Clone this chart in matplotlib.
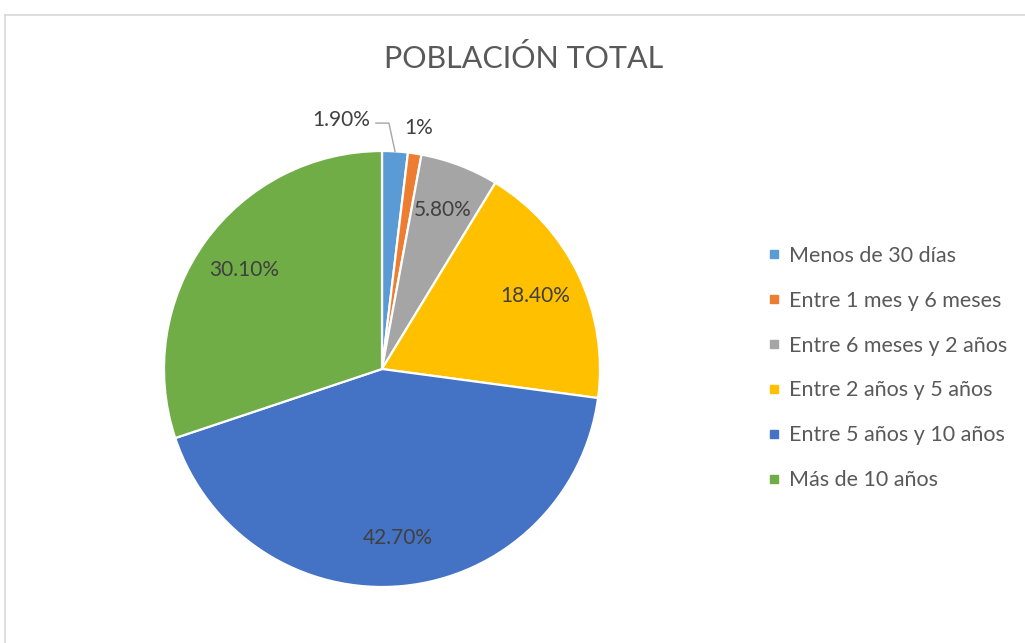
import numpy as np
import matplotlib.pyplot as plt
from matplotlib.lines import Line2D

categories = ["Menos de 30 días", "Entre 1 mes y 6 meses", "Entre 6 meses y 2 años",
              "Entre 2 años y 5 años", "Entre 5 años y 10 años", "Más de 10 años"]
values = [1.9, 1.0, 5.8, 18.4, 42.7, 30.1]
value_labels = ["1.90%", "1%", "5.80%", "18.40%", "42.70%", "30.10%"]
colors = ["#5B9BD5", "#ED7D31", "#A5A5A5", "#FFC000", "#4472C4", "#70AD47"]

plt.rcParams["font.family"] = ["Lato", "DejaVu Sans"]

W, H = 1025, 643
fig = plt.figure(figsize=(W / 100, H / 100), dpi=100)

# chart border (light gray, Excel style)
fig.add_artist(Line2D([4.5 / W, 4.5 / W], [0, 1 - 14.5 / H], color="#D9D9D9", lw=1.2))
fig.add_artist(Line2D([4.5 / W, 1], [1 - 14.5 / H, 1 - 14.5 / H], color="#D9D9D9", lw=1.2))

# pie axes: centre (382, 369) px, radius 218 px
cx, cy, r = 382, 369, 218
ax = fig.add_axes([(cx - r) / W, (H - cy - r) / H, 2 * r / W, 2 * r / H])
wedges, _ = ax.pie(values, colors=colors, startangle=90, counterclock=False,
                   radius=1, wedgeprops=dict(edgecolor="white", linewidth=1.6))
ax.set_xlim(-1, 1)
ax.set_ylim(-1, 1)
ax.set_aspect("equal")
ax.axis("off")

total = sum(values)
cum = np.cumsum([0] + values[:-1])
mids = [np.deg2rad(90 - (c + v / 2) / total * 360) for c, v in zip(cum, values)]

for i, (lab, a) in enumerate(zip(value_labels, mids)):
    if i == 0:
        p0 = (np.cos(a), np.sin(a))
        p1 = (p0[0] - 0.028, 1.128)
        p2 = (p1[0] - 0.06, 1.128)
        ax.plot([p0[0], p1[0], p2[0]], [p0[1], p1[1], p2[1]], color="#A6A6A6",
                lw=1.0, clip_on=False)
        ax.text(p2[0] - 0.025, 1.14, lab, ha="right", va="center", fontsize=15,
                color="#404040")
    elif i == 1:
        ax.text(1.12 * np.cos(a), 1.12 * np.sin(a), lab, ha="center", va="center",
                fontsize=15, color="#404040")
    else:
        ax.text(0.78 * np.cos(a), 0.78 * np.sin(a), lab, ha="center", va="center",
                fontsize=15, color="#404040")

fig.text(524 / W, 1 - 58 / H, "POBLACIÓN TOTAL", ha="center", va="center",
         fontsize=22, color="#595959")

handles = [Line2D([], [], marker="s", linestyle="none", markersize=6,
                  markerfacecolor=c, markeredgecolor=c) for c in colors]
fig.legend(handles, categories, loc="center left", bbox_to_anchor=(757 / W, 1 - 368 / H),
           frameon=False, fontsize=15.5, labelcolor="#595959", handlelength=0.55,
           handletextpad=0.45, labelspacing=1.16, borderpad=0)

fig.savefig("out.png", dpi=100)
